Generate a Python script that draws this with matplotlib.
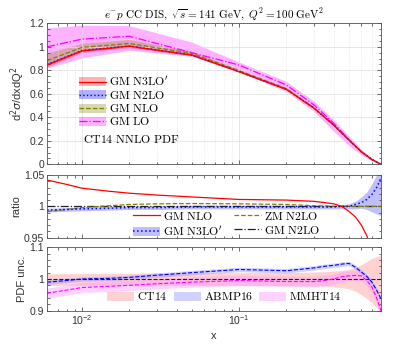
import numpy as np
import matplotlib
matplotlib.use("Agg")
import matplotlib.pyplot as plt
from matplotlib.patches import Patch
from matplotlib.lines import Line2D
from matplotlib.ticker import MultipleLocator, FixedLocator, FuncFormatter, LogLocator, NullFormatter

plt.rcParams['font.family'] = ['Liberation Sans', 'DejaVu Sans']
plt.rcParams['font.size'] = 7.5

# ---- top panel: cross sections
x_top = [0.006, 0.01, 0.02, 0.05, 0.1, 0.2, 0.3, 0.4, 0.5, 0.6, 0.7, 0.8]
n3lo = [0.845, 0.965, 1.005, 0.93, 0.788, 0.638, 0.477, 0.334, 0.207, 0.107, 0.042, 0.0]
n3lo_lo = [0.83, 0.952, 0.994, 0.922, 0.782, 0.633, 0.473, 0.331, 0.205, 0.106, 0.041, 0.0]
n3lo_hi = [0.862, 0.978, 1.016, 0.938, 0.794, 0.643, 0.481, 0.337, 0.209, 0.108, 0.043, 0.001]
n2lo = [0.85, 0.969, 1.007, 0.931, 0.789, 0.638, 0.477, 0.334, 0.207, 0.107, 0.042, 0.0]
n2lo_lo = [0.845, 0.964, 1.003, 0.928, 0.787, 0.636, 0.476, 0.333, 0.206, 0.106, 0.041, 0.0]
n2lo_hi = [0.855, 0.974, 1.011, 0.934, 0.791, 0.640, 0.478, 0.335, 0.208, 0.108, 0.043, 0.001]
nlo = [0.882, 0.995, 1.028, 0.945, 0.797, 0.644, 0.481, 0.335, 0.206, 0.104, 0.04, 0.0]
nlo_lo = [0.845, 0.962, 1.002, 0.93, 0.789, 0.638, 0.476, 0.331, 0.203, 0.102, 0.039, 0.0]
nlo_hi = [0.945, 1.03, 1.062, 0.962, 0.806, 0.651, 0.486, 0.339, 0.209, 0.106, 0.041, 0.001]
lo = [1.0, 1.065, 1.09, 0.95, 0.845, 0.675, 0.505, 0.35, 0.21, 0.105, 0.04, 0.0]
lo_lo = [0.82, 0.905, 0.97, 0.92, 0.79, 0.62, 0.45, 0.28, 0.16, 0.08, 0.03, 0.0]
lo_hi = [1.16, 1.185, 1.18, 1.04, 0.87, 0.705, 0.535, 0.38, 0.24, 0.125, 0.05, 0.003]

# ---- ratio / PDF panels
x_r = [0.006, 0.008, 0.01, 0.015, 0.02, 0.03, 0.05, 0.1, 0.2, 0.3, 0.35, 0.4,
       0.45, 0.5, 0.55, 0.6, 0.65, 0.7, 0.75, 0.8]
r_nlo = [1.042, 1.035, 1.029, 1.024, 1.021, 1.018, 1.015, 1.011, 1.010, 1.008, 1.006, 1.004,
         1.0, 0.992, 0.983, 0.970, 0.953, 0.93, 0.90, 0.87]
r_n3lo = [0.994, 0.995, 0.996, 0.997, 0.998, 0.998, 0.999, 0.999, 0.999, 0.999, 0.999, 0.999,
          1.0, 1.0, 1.003, 1.006, 1.011, 1.019, 1.03, 1.045]
r_n3lo_lo = [0.991, 0.992, 0.993, 0.994, 0.995, 0.995, 0.996, 0.996, 0.996, 0.996, 0.996, 0.996,
             0.996, 0.996, 0.996, 0.997, 0.995, 0.991, 0.988, 0.985]
r_n3lo_hi = [0.997, 0.998, 0.999, 1.0, 1.001, 1.001, 1.002, 1.002, 1.002, 1.002, 1.002, 1.002,
             1.003, 1.004, 1.008, 1.015, 1.023, 1.036, 1.05, 1.07]
r_zm = [0.9915, 0.995, 0.998, 1.001, 1.003, 1.004, 1.0045, 1.004, 1.003, 1.001, 1.0005, 1.0,
        1.0, 1.0, 1.0, 1.0, 1.0, 1.0, 1.0, 1.0]
r_n2lo = [1.0] * 20

abmp = [0.99, 0.995, 1.0, 1.002, 1.005, 1.012, 1.02, 1.03, 1.026, 1.035, 1.04, 1.043,
        1.047, 1.049, 1.037, 1.022, 1.008, 0.99, 0.965, 0.937]
mmht = [0.955, 0.965, 0.973, 0.977, 0.98, 0.985, 0.99, 0.995, 0.992, 0.992, 0.995, 1.0,
        1.007, 1.01, 1.011, 1.01, 0.995, 0.975, 0.94, 0.9]
ct14_up = [0.016, 0.017, 0.017, 0.018, 0.018, 0.019, 0.019, 0.02, 0.02, 0.022, 0.023, 0.025,
           0.027, 0.03, 0.036, 0.045, 0.055, 0.065, 0.07, 0.075]
ct14_dn = [0.021, 0.02, 0.02, 0.02, 0.02, 0.02, 0.02, 0.02, 0.021, 0.022, 0.023, 0.025,
           0.027, 0.031, 0.038, 0.05, 0.062, 0.075, 0.09, 0.105]
abmp_err = 0.007
mmht_err = 0.016

fig = plt.figure(figsize=(4.15, 3.63), dpi=100)
ax1 = fig.add_axes([0.1133, 0.5474, 0.8048, 0.3884])
ax2 = fig.add_axes([0.1133, 0.3452, 0.8048, 0.1727])
ax3 = fig.add_axes([0.1133, 0.1441, 0.8048, 0.1747])

red, blue, olive, mag = '#ff0000', '#0000ff', '#808000', '#ff00ff'

# top
ax1.fill_between(x_top, lo_lo, lo_hi, color=mag, alpha=0.3, lw=0)
ax1.fill_between(x_top, nlo_lo, nlo_hi, color=olive, alpha=0.3, lw=0)
ax1.fill_between(x_top, n2lo_lo, n2lo_hi, color=blue, alpha=0.3, lw=0)
ax1.fill_between(x_top, n3lo_lo, n3lo_hi, color=red, alpha=0.3, lw=0)
ax1.plot(x_top, lo, color=mag, ls='-.', lw=0.9)
ax1.plot(x_top, nlo, color=olive, ls='--', lw=0.9)
ax1.plot(x_top, n2lo, color=blue, ls=':', lw=1.0)
ax1.plot(x_top, n3lo, color=red, ls='-', lw=0.9)

h1 = [(Patch(color=red, alpha=0.3, lw=0), Line2D([], [], color=red, lw=0.9)),
      (Patch(color=blue, alpha=0.3, lw=0), Line2D([], [], color=blue, ls=':', lw=1.0)),
      (Patch(color=olive, alpha=0.3, lw=0), Line2D([], [], color=olive, ls='--', lw=0.9)),
      (Patch(color=mag, alpha=0.3, lw=0), Line2D([], [], color=mag, ls='-.', lw=0.9))]
l1 = [r'$\mathrm{GM\ N3LO}^{\prime}$', r'$\mathrm{GM\ N2LO}$', r'$\mathrm{GM\ NLO}$', r'$\mathrm{GM\ LO}$']
leg = ax1.legend(h1, l1, loc='upper left', bbox_to_anchor=(0.096, 0.635), frameon=False,
                 fontsize=8.5, handlelength=2.3, handleheight=0.8, labelspacing=0.1,
                 handletextpad=0.25, borderpad=0, borderaxespad=0)
for t in leg.get_texts():
    t.set_math_fontfamily('cm')
ax1.text(0.108, 0.172, r'$\mathrm{CT14\ NNLO\ PDF}$', transform=ax1.transAxes,
         fontsize=8.5, math_fontfamily='cm', va='center')
ax1.set_title(r'$e^{-}p\ \mathrm{CC\ DIS},\ \sqrt{s}=141\ \mathrm{GeV},\ Q^2=100\ \mathrm{GeV}^2$',
              fontsize=8, math_fontfamily='cm', pad=3)
ax1.set_ylim(0, 1.2)
ax1.set_ylabel(r'd$^2\sigma$/dxdQ$^2$', fontsize=8, labelpad=2)
ax1.yaxis.set_major_locator(MultipleLocator(0.2))
ax1.yaxis.set_minor_locator(MultipleLocator(0.05))
ax1.grid(True, which='major', color='#dddddd', lw=0.5, ls='-')
ax1.grid(True, which='minor', axis='x', color='#dddddd', lw=0.5, ls=':')

# ratio
ax2.fill_between(x_r, r_n3lo_lo, r_n3lo_hi, color=blue, alpha=0.25, lw=0)
ax2.plot(x_r, r_n2lo, color='#222222', ls='-.', lw=0.9)
ax2.plot(x_r, r_zm, color=olive, ls='--', lw=0.9)
ax2.plot(x_r, r_n3lo, color=blue, ls=':', lw=1.1)
ax2.plot(x_r, r_nlo, color=red, ls='-', lw=0.9)
ax2.set_ylim(0.95, 1.05)
ax2.set_ylabel('ratio', fontsize=8, labelpad=2)
ax2.yaxis.set_major_locator(FixedLocator([0.95, 1.0, 1.05]))
ax2.yaxis.set_minor_locator(MultipleLocator(0.01))
h2 = [Line2D([], [], color=red, lw=0.9),
      (Patch(color=blue, alpha=0.25, lw=0), Line2D([], [], color=blue, ls=':', lw=1.1)),
      Line2D([], [], color=olive, ls='--', lw=0.9),
      Line2D([], [], color='#222222', ls='-.', lw=0.9)]
l2 = [r'$\mathrm{GM\ NLO}$', r'$\mathrm{GM\ N3LO}^{\prime}$', r'$\mathrm{ZM\ N2LO}$', r'$\mathrm{GM\ N2LO}$']
leg2 = ax2.legend(h2, l2, loc='upper left', bbox_to_anchor=(0.257, 0.43), ncol=2, frameon=False,
                  fontsize=8.5, handlelength=2.3, handleheight=0.8, labelspacing=0.15,
                  handletextpad=0.25, columnspacing=1.0, borderpad=0, borderaxespad=0)
for t in leg2.get_texts():
    t.set_math_fontfamily('cm')

# PDF uncertainty
ct_lo = [1 - d for d in ct14_dn]
ct_hi = [1 + u for u in ct14_up]
ax3.fill_between(x_r, ct_lo, ct_hi, color='#ff9999', alpha=0.45, lw=0)
ax3.fill_between(x_r, np.array(abmp) - abmp_err, np.array(abmp) + abmp_err, color='#9999ff', alpha=0.45, lw=0)
ax3.fill_between(x_r, np.array(mmht) - mmht_err, np.array(mmht) + mmht_err, color='#ff99ff', alpha=0.45, lw=0)
ax3.plot(x_r, [1.0] * len(x_r), color='#222222', ls='--', lw=0.8)
ax3.plot(x_r, abmp, color=blue, ls='--', lw=0.8)
ax3.plot(x_r, mmht, color=mag, ls='--', lw=0.8)
ax3.set_ylim(0.9, 1.1)
ax3.set_ylabel('PDF unc.', fontsize=8, labelpad=2)
ax3.yaxis.set_major_locator(FixedLocator([0.9, 1.0, 1.1]))
ax3.yaxis.set_minor_locator(MultipleLocator(0.02))
h3 = [Patch(color='#ff9999', alpha=0.45, lw=0), Patch(color='#9999ff', alpha=0.45, lw=0),
      Patch(color='#ff99ff', alpha=0.45, lw=0)]
l3 = [r'$\mathrm{CT14}$', r'$\mathrm{ABMP16}$', r'$\mathrm{MMHT14}$']
leg3 = ax3.legend(h3, l3, loc='center left', bbox_to_anchor=(0.18, 0.21), ncol=3, frameon=False,
                  fontsize=8.5, handlelength=2.3, handleheight=0.8, handletextpad=0.25,
                  columnspacing=0.5, borderpad=0, borderaxespad=0)
for t in leg3.get_texts():
    t.set_math_fontfamily('cm')
ax3.set_xlabel('x', fontsize=8, labelpad=3)

fmt = FuncFormatter(lambda v, p: ('%g' % v))
for ax in (ax1, ax2, ax3):
    ax.set_xscale('log')
    ax.set_xlim(0.006, 0.8)
    ax.xaxis.set_major_locator(LogLocator(base=10))
    ax.xaxis.set_minor_locator(LogLocator(base=10, subs=np.arange(2, 10)))
    ax.xaxis.set_minor_formatter(NullFormatter())
    ax.yaxis.set_major_formatter(fmt)
    ax.tick_params(which='both', direction='in', top=True, right=True, colors='#333333',
                   labelsize=7.5, pad=2)
    ax.tick_params(which='major', length=3, width=0.5)
    ax.tick_params(which='minor', length=1.8, width=0.5)
    for s in ax.spines.values():
        s.set_color('#555555')
        s.set_linewidth(0.6)
    ax.yaxis.label.set_color('#333333')
ax1.tick_params(labelbottom=False)
ax2.tick_params(labelbottom=False)
ax3.xaxis.label.set_color('#333333')

fig.savefig('out.png', dpi=100)
